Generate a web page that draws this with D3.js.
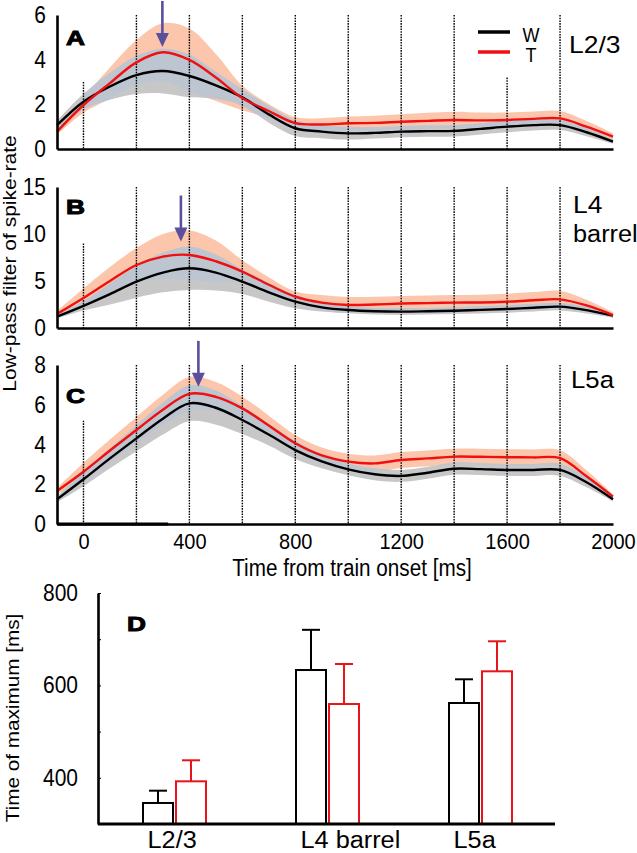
<!DOCTYPE html>
<html><head><meta charset="utf-8">
<script src="https://cdn.jsdelivr.net/npm/d3@7"></script>
<style>body{margin:0;background:#fff}svg{display:block;font-family:"Liberation Sans",Arial,Helvetica,sans-serif}</style>
</head><body><svg id="c" width="637" height="853"></svg>
<script>
// ---------------- data ----------------
const times = [-100,0,100,200,300,400,500,600,700,800,900,1000,1100,1200,1300,1400,1500,1600,1700,1800,1900,2000];
// Panel A  L2/3
const wA    = [1.07,2.12,2.80,3.31,3.49,3.27,2.85,2.31,1.55,0.93,0.78,0.70,0.72,0.78,0.80,0.81,0.90,1.00,1.07,1.07,0.75,0.33];
const wAsem = [0.20,0.35,0.60,0.85,1.00,0.95,0.60,0.37,0.37,0.35,0.30,0.28,0.25,0.25,0.25,0.25,0.25,0.25,0.24,0.22,0.18,0.10];
const tA    = [0.78,1.97,2.95,3.88,4.33,3.99,3.20,2.28,1.70,1.16,1.10,1.15,1.17,1.22,1.26,1.30,1.28,1.30,1.35,1.37,1.00,0.55];
const tAsem = [0.15,0.35,0.70,1.00,1.30,1.40,1.05,0.55,0.32,0.27,0.28,0.30,0.32,0.34,0.36,0.37,0.35,0.33,0.33,0.33,0.25,0.15];
// Panel B  L4 barrel
const wB    = [1.20,2.35,3.60,4.93,5.90,6.35,5.90,4.93,3.80,2.80,2.20,1.91,1.78,1.74,1.78,1.84,1.93,2.02,2.15,2.27,1.90,1.31];
const wBsem = [0.20,0.50,1.10,1.70,2.10,2.30,1.90,1.30,1.00,0.70,0.45,0.35,0.35,0.35,0.35,0.35,0.38,0.40,0.40,0.40,0.35,0.20];
const tB    = [1.50,3.20,5.00,6.70,7.60,7.77,7.10,6.00,4.60,3.33,2.70,2.45,2.50,2.60,2.65,2.70,2.72,2.80,2.95,3.05,2.40,1.38];
const tBsem = [0.30,1.00,1.50,1.80,2.40,2.60,2.20,1.20,0.80,0.55,0.80,0.85,0.82,0.80,0.80,0.80,0.82,0.85,0.88,0.90,0.60,0.30];
// Panel C  L5a
const wC    = [1.24,2.25,3.30,4.31,5.30,6.07,5.85,5.23,4.50,3.72,3.15,2.75,2.50,2.42,2.58,2.78,2.76,2.72,2.72,2.72,2.10,1.24];
const wCsem = [0.15,0.35,0.50,0.65,0.80,0.90,0.85,0.70,0.55,0.45,0.35,0.30,0.30,0.30,0.30,0.30,0.30,0.30,0.30,0.30,0.25,0.10];
const tC    = [1.66,2.63,3.70,4.73,5.75,6.55,6.40,5.82,4.95,4.06,3.45,3.14,3.05,3.22,3.30,3.39,3.38,3.36,3.35,3.31,2.40,1.38];
const tCsem = [0.15,0.45,0.55,0.65,0.75,0.85,0.75,0.60,0.50,0.42,0.40,0.40,0.40,0.40,0.40,0.40,0.40,0.40,0.40,0.40,0.30,0.10];

const stimTimes = [0,200,400,600,800,1000,1200,1400,1600,1800];
const stimTopA = [3.0,6,6,6,6,6,6,6,3.2,6];
const stimTopB = [9.0,15,15,15,15,15,15,15,15,15];
const stimTopC = [5.2,8,8,8,8,8,8,8,8,8];
const peakTimes = [298,368,434];
const arrowTips = [4.57,9.2,6.9];

const yTicksA = [0,2,4,6], yTicksB = [0,5,10,15], yTicksC = [0,2,4,6,8];
const xTicks = [0,400,800,1200,1600,2000];
const seriesNames = ["W","T"];
const panelNames = ["A","B","C","D"];
const layerLabels = ["L2/3",["L4","barrel"],"L5a"];

// Panel D
const layers = ["L2/3","L4 barrel","L5a"];
const wMax = [345.5,633.3,561.9], wErr = [26.6,87,51.3];
const tMax = [392.4,559.7,630.5], tErr = [45.5,86.6,65];
const dTicks = [400,600,800];
const dMinor = [300,400,500,600,700,800];

// ---------------- style ----------------
const RED = "#f01010", SALMON = "#fbc6ab", GRAY = "#c7c7c7", OVER = "#bdc5d1", PURPLE = "#5b4f9c";
const FONT = "Liberation Sans, Arial, sans-serif";
const svg = d3.select("#c");

function txt(sel, x, y, s, o) {
  o = o || {};
  let tr = `translate(${x},${y})`;
  if (o.rot) tr += ` rotate(${o.rot})`;
  tr += ` scale(${o.sx||1},${o.sy||1})`;
  return sel.append("text").attr("transform", tr)
    .attr("font-size", o.fs || 20)
    .attr("text-anchor", o.anchor || "start")
    .attr("font-weight", o.bold ? "bold" : "normal")
    .attr("fill", o.fill || "#000")
    .attr("stroke", o.stroke || "none").attr("stroke-width", o.sw || 0)
    .text(s);
}

const x = d3.scaleLinear().domain([-100,2000]).range([57,613]);

const panels = [
  {w:wA, ws:wAsem, t:tA, ts:tAsem, y:d3.scaleLinear().domain([0,6]).range([149,15]), ticks:yTicksA, stim:stimTopA, letterY:45},
  {w:wB, ws:wBsem, t:tB, ts:tBsem, y:d3.scaleLinear().domain([0,15]).range([328,187]), ticks:yTicksB, stim:stimTopB, letterY:214},
  {w:wC, ws:wCsem, t:tC, ts:tCsem, y:d3.scaleLinear().domain([0,8]).range([524,365]), ticks:yTicksC, stim:stimTopC, letterY:403}
];

panels.forEach((p, i) => {
  const g = svg.append("g");
  const y = p.y;
  const area = (m, s) => d3.area().curve(d3.curveCatmullRom)
      .x((d, k) => x(times[k])).y0((d, k) => y(m[k] - s[k])).y1((d, k) => y(m[k] + s[k]))(m);
  const line = (m) => d3.line().curve(d3.curveCatmullRom).x((d, k) => x(times[k])).y(d => y(d))(m);

  const salmonPath = area(p.t, p.ts);
  const grayPath = area(p.w, p.ws);
  g.append("path").attr("d", salmonPath).attr("fill", SALMON);
  g.append("path").attr("d", grayPath).attr("fill", GRAY);
  const cid = "clip" + i;
  svg.append("clipPath").attr("id", cid).append("path").attr("d", salmonPath);
  g.append("path").attr("d", grayPath).attr("fill", OVER).attr("clip-path", `url(#${cid})`);

  // stimulus lines
  g.selectAll(".stim").data(stimTimes).join("line")
    .attr("x1", d => x(d)).attr("x2", d => x(d))
    .attr("y1", (d, k) => y(p.stim[k])).attr("y2", y(0))
    .attr("stroke", "#000").attr("stroke-width", 1.4).attr("stroke-dasharray", "1.6,1.1");

  g.append("path").attr("d", line(p.w)).attr("fill", "none").attr("stroke", "#000").attr("stroke-width", 2.4);
  g.append("path").attr("d", line(p.t)).attr("fill", "none").attr("stroke", RED).attr("stroke-width", 2.4);

  // axes
  const ya = g.append("g").attr("transform", `translate(${x(-100)},0)`)
    .call(d3.axisLeft(y).tickValues(p.ticks).tickSize(0).tickSizeOuter(0).tickPadding(11).tickFormat(d3.format("d")));
  ya.select(".domain").attr("stroke-width", 2.6);
  ya.selectAll("text").attr("font-size", 21).attr("font-family", FONT).attr("transform", "scale(1,1.12)");

  const xa = g.append("g").attr("transform", `translate(0,${y(0)})`)
    .call(d3.axisBottom(x).tickValues(i === 2 ? xTicks : []).tickSize(0).tickSizeOuter(0).tickPadding(8).tickFormat(d3.format("d")));
  xa.select(".domain").attr("stroke-width", 2.7);
  xa.selectAll("text").attr("font-size", 20).attr("font-family", FONT).attr("transform", "scale(1,1.12)");

  // arrow
  const ax = x(peakTimes[i]), tip = y(arrowTips[i]);
  g.append("line").attr("x1", ax).attr("x2", ax).attr("y1", Math.max(0, tip - 46)).attr("y2", tip - 10)
    .attr("stroke", PURPLE).attr("stroke-width", 2.6);
  g.append("path").attr("d", `M${ax - 6.5},${tip - 14}L${ax + 6.5},${tip - 14}L${ax},${tip}Z`).attr("fill", PURPLE);

  // panel letter
  txt(g, 66, p.letterY, panelNames[i], {fs: 21, bold: true, sx: 1.25, sy: 1.0, stroke: "#000", sw: 1});
});

// stimulus bar on bottom axis
svg.append("line").attr("x1", x(-100)).attr("x2", x(320)).attr("y1", panels[2].y(0)).attr("y2", panels[2].y(0))
  .attr("stroke", "#000").attr("stroke-width", 3.2);

// layer labels
txt(svg, 569, 53, layerLabels[0], {fs: 23, sx: 1.15, sy: 1.05});
txt(svg, 573, 213, layerLabels[1][0], {fs: 23, sx: 1.15, sy: 1.05});
txt(svg, 573, 242, layerLabels[1][1], {fs: 23, sx: 1.1, sy: 1.05});
txt(svg, 571, 388, layerLabels[2], {fs: 23, sx: 1.12, sy: 1.05});

// legend
[["#000", 32], [RED, 52]].forEach((c, k) => {
  svg.append("line").attr("x1", 478).attr("x2", 510).attr("y1", c[1]).attr("y2", c[1]).attr("stroke", c[0]).attr("stroke-width", 3.5);
  txt(svg, 531, c[1] + 9.5, seriesNames[k], {fs: 18, sy: 1.1, anchor: "middle"});
});

// y label (A-C)
txt(svg, 16, 263.5, "Low-pass filter of spike-rate", {fs: 17.5, rot: -90, sx: 1.2, anchor: "middle"});
// x title
txt(svg, 352, 576, "Time from train onset [ms]", {fs: 20.7, sy: 1.12, anchor: "middle"});

// ---------------- Panel D ----------------
const gd = svg.append("g");
const yd = d3.scaleLinear().domain([300,800]).range([824,593]);
const xd = d3.scalePoint().domain(layers).range([174.5,480.5]);
const bw = 30, gap = 1.5;

const bars = [
  {vals: wMax, err: wErr, col: "#000", off: -gap - bw},
  {vals: tMax, err: tErr, col: "#e8141c", off: gap}
];
bars.forEach(b => {
  gd.selectAll(null).data(layers).join("rect")
    .attr("x", d => xd(d) + b.off).attr("width", bw)
    .attr("y", (d, k) => yd(b.vals[k])).attr("height", (d, k) => yd(300) - yd(b.vals[k]))
    .attr("fill", "#fff").attr("stroke", b.col).attr("stroke-width", 2);
  gd.selectAll(null).data(layers).join("line")
    .attr("x1", d => xd(d) + b.off + bw / 2).attr("x2", d => xd(d) + b.off + bw / 2)
    .attr("y1", (d, k) => yd(b.vals[k])).attr("y2", (d, k) => yd(b.vals[k] + b.err[k]))
    .attr("stroke", b.col).attr("stroke-width", 2);
  gd.selectAll(null).data(layers).join("line")
    .attr("x1", d => xd(d) + b.off + bw / 2 - 9).attr("x2", d => xd(d) + b.off + bw / 2 + 9)
    .attr("y1", (d, k) => yd(b.vals[k] + b.err[k])).attr("y2", (d, k) => yd(b.vals[k] + b.err[k]))
    .attr("stroke", b.col).attr("stroke-width", 2);
});

const yda = gd.append("g").attr("transform", "translate(98,0)")
  .call(d3.axisRight(yd).tickValues(dMinor).tickSize(3).tickSizeOuter(0).tickFormat(""));
yda.select(".domain").attr("stroke-width", 2.6);
yda.selectAll(".tick line").attr("stroke-width", 1);
gd.append("g").attr("transform", "translate(98,0)")
  .call(d3.axisLeft(yd).tickValues(dTicks).tickSize(0).tickPadding(20).tickFormat(d3.format("d")))
  .call(s => s.select(".domain").remove())
  .selectAll("text").attr("font-size", 21).attr("font-family", FONT).attr("transform", "scale(1,1.1)");

gd.append("line").attr("x1", 98).attr("x2", 555).attr("y1", yd(300)).attr("y2", yd(300))
  .attr("stroke", "#000").attr("stroke-width", 3);

layers.forEach(l => txt(gd, xd(l) - 27, 848, l, {fs: 23, sx: 1.1, sy: 1.05}));
txt(gd, 127, 631, panelNames[3], {fs: 21, bold: true, sx: 1.25, stroke: "#000", sw: 1});
txt(gd, 19, 718, "Time of maximum [ms]", {fs: 18.5, rot: -90, sx: 1.12, anchor: "middle"});
</script></body></html>
